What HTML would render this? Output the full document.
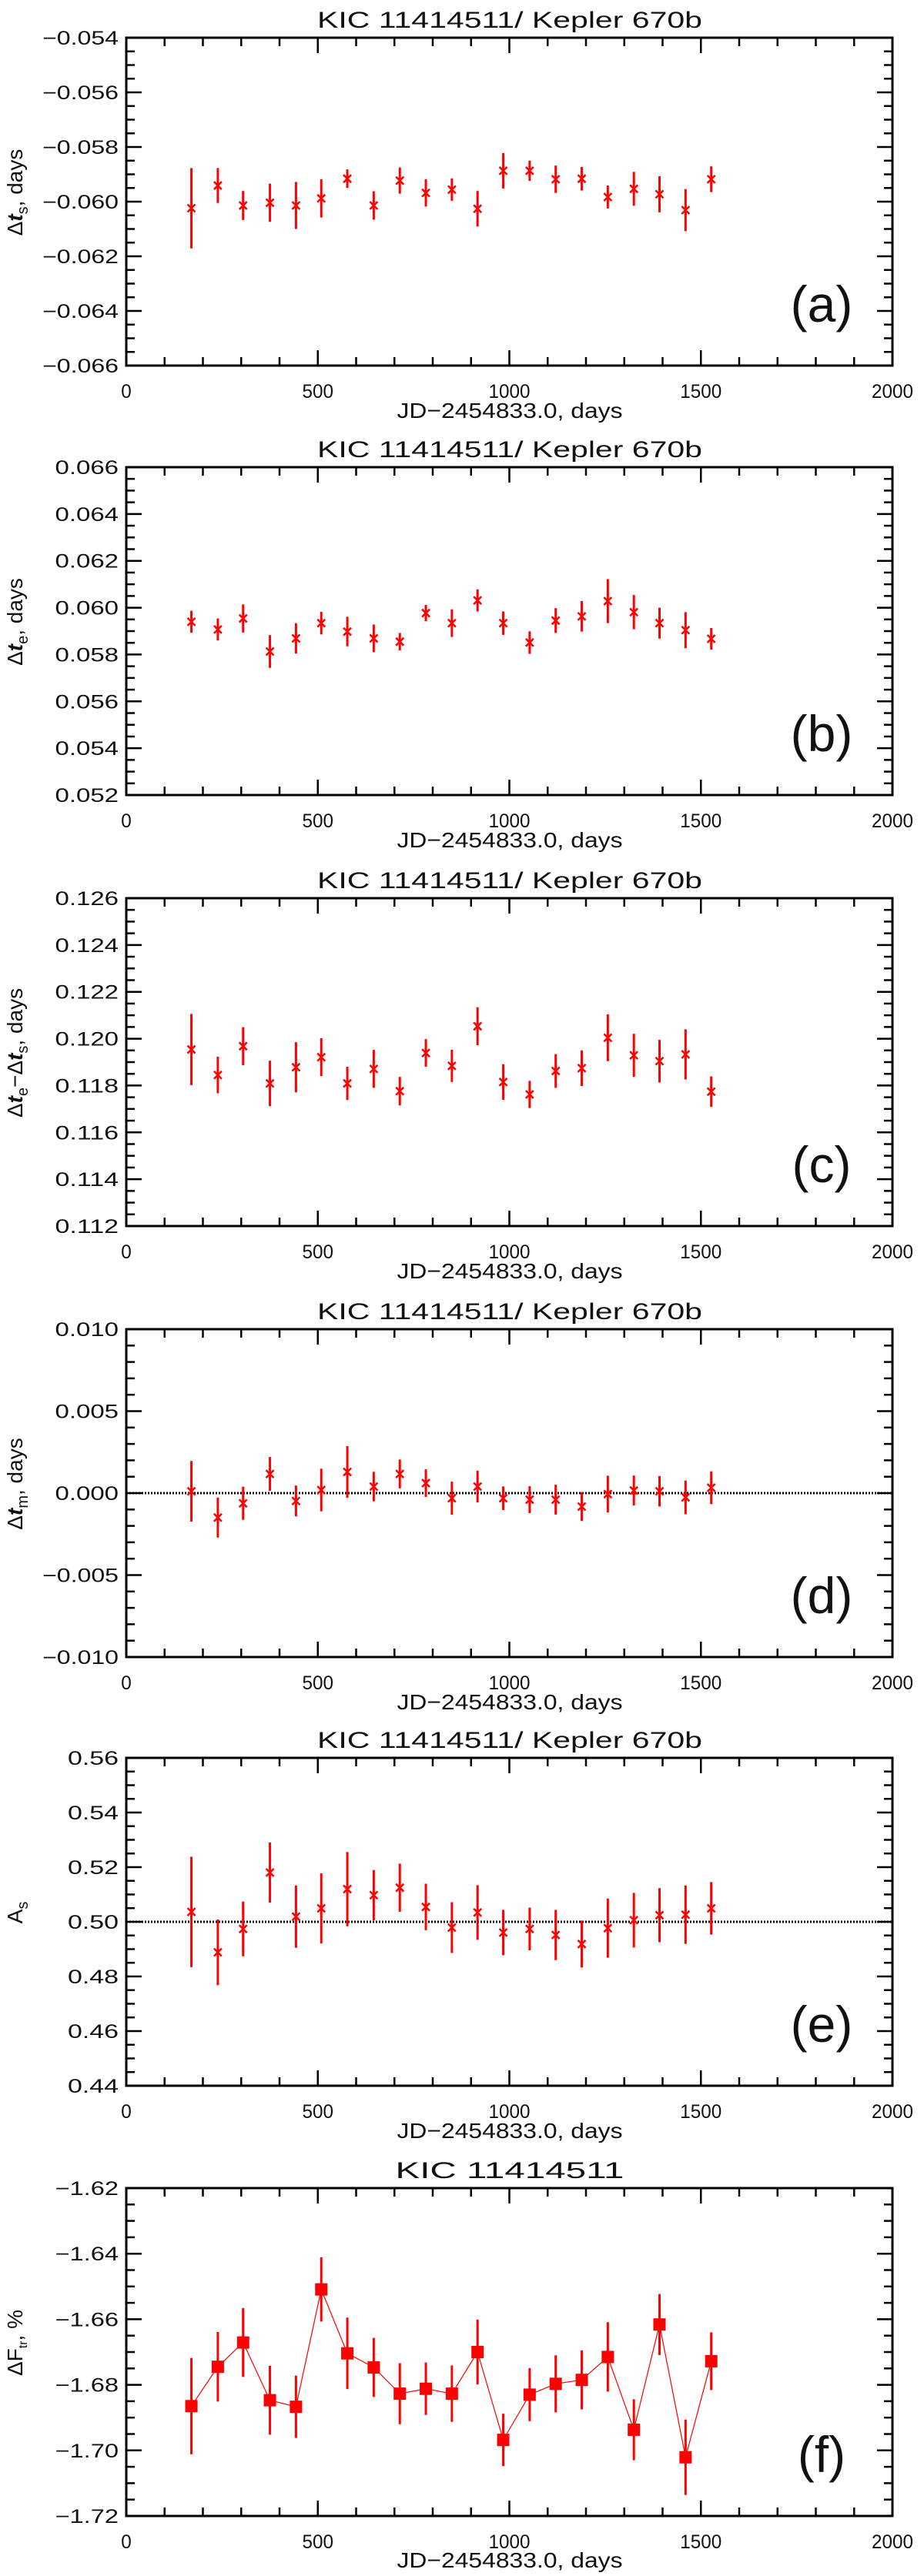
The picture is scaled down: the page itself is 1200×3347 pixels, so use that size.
<!DOCTYPE html>
<html><head><meta charset="utf-8"><style>
html,body{margin:0;padding:0;background:#fff}
svg{display:block}
text{font-family:"Liberation Sans",sans-serif;fill:#111}
</style></head><body>
<svg id="fig" width="1200" height="3347" viewBox="0 0 1200 3347" xmlns="http://www.w3.org/2000/svg"></svg>
<script>
const xDays = [170,239,305,375,443,509,577,646,714,782,850,917,984,1053,1121,1189,1257,1325,1392,1460,1527];
const xTicks = [0,500,1000,1500,2000];
const xTickLabels = ["0","500","1000","1500","2000"];

const valsA = [-0.06024,-0.05941,-0.06014,-0.06004,-0.06014,-0.05988,-0.05916,-0.06014,-0.05923,-0.05968,-0.05956,-0.06026,-0.05887,-0.05887,-0.05918,-0.05916,-0.05983,-0.05953,-0.05973,-0.06031,-0.05918];
const errsA = [0.00147,0.00064,0.00053,0.0007,0.00086,0.0007,0.00034,0.00052,0.00048,0.0005,0.00041,0.00065,0.00065,0.00037,0.0005,0.00043,0.00042,0.00062,0.00066,0.00077,0.00047];
const ticksA = [-0.054,-0.056,-0.058,-0.060,-0.062,-0.064,-0.066];
const tickLabelsA = ["\u22120.054","\u22120.056","\u22120.058","\u22120.060","\u22120.062","\u22120.064","\u22120.066"];

const valsB = [0.05940,0.05907,0.05954,0.05813,0.05869,0.05934,0.05898,0.05869,0.05855,0.05977,0.05934,0.06031,0.05934,0.05851,0.05945,0.05963,0.06028,0.05981,0.05934,0.05904,0.05867];
const errsB = [0.00047,0.00047,0.0006,0.0007,0.00065,0.00048,0.00063,0.00059,0.00037,0.00035,0.00059,0.00047,0.0005,0.00048,0.00053,0.00065,0.00094,0.00073,0.00066,0.00077,0.00046];
const ticksB = [0.066,0.064,0.062,0.060,0.058,0.056,0.054,0.052];
const tickLabelsB = ["0.066","0.064","0.062","0.060","0.058","0.056","0.054","0.052"];

const valsC = [0.11954,0.11845,0.11968,0.11809,0.11878,0.11921,0.11809,0.11871,0.11776,0.11939,0.11884,0.12053,0.11815,0.11762,0.11862,0.11874,0.12004,0.11929,0.11904,0.11933,0.11774];
const errsC = [0.00152,0.00078,0.00081,0.00097,0.00107,0.00081,0.00071,0.00081,0.00061,0.00059,0.00069,0.00081,0.00076,0.00058,0.00072,0.00076,0.001,0.00092,0.00091,0.00107,0.00065];
const ticksC = [0.126,0.124,0.122,0.120,0.118,0.116,0.114,0.112];
const tickLabelsC = ["0.126","0.124","0.122","0.120","0.118","0.116","0.114","0.112"];

const valsD = [0.00011,-0.00149,-0.00062,0.00117,-0.00048,0.00019,0.00129,0.0004,0.00117,0.00061,-0.00031,0.0004,-0.00031,-0.0004,-0.0004,-0.00082,-0.00006,0.00016,0.00011,-0.00026,0.00033];
const errsD = [0.00185,0.00122,0.00101,0.00103,0.00094,0.0013,0.00158,0.0009,0.00088,0.00084,0.00101,0.00097,0.00072,0.00082,0.00091,0.00088,0.00112,0.00091,0.00093,0.00103,0.001];
const ticksD = [0.010,0.005,0.000,-0.005,-0.010];
const tickLabelsD = ["0.010","0.005","0.000","\u22120.005","\u22120.010"];

const valsE = [0.50362,0.48883,0.49738,0.51802,0.50191,0.50493,0.51198,0.50976,0.51248,0.50544,0.49789,0.50342,0.49607,0.49738,0.49517,0.49185,0.49768,0.5006,0.50242,0.50262,0.50493];
const errsE = [0.0202,0.012,0.01,0.011,0.0114,0.0128,0.0136,0.0092,0.0088,0.0085,0.0093,0.01,0.0083,0.0078,0.0092,0.0086,0.0108,0.01,0.0099,0.0107,0.0096];
const ticksE = [0.56,0.54,0.52,0.50,0.48,0.46,0.44];
const tickLabelsE = ["0.56","0.54","0.52","0.50","0.48","0.46","0.44"];

const valsF = [-1.6865,-1.6745,-1.6671,-1.6847,-1.6867,-1.6509,-1.6704,-1.6747,-1.6827,-1.6812,-1.6827,-1.6700,-1.6968,-1.6830,-1.6797,-1.6785,-1.6715,-1.6937,-1.6616,-1.7021,-1.6728];
const errsF = [0.0147,0.0106,0.0105,0.0105,0.0095,0.0098,0.0109,0.009,0.0093,0.008,0.0086,0.0099,0.008,0.0081,0.0087,0.009,0.0106,0.0093,0.0093,0.0115,0.0088];
const ticksF = [-1.62,-1.64,-1.66,-1.68,-1.70,-1.72];
const tickLabelsF = ["\u22121.62","\u22121.64","\u22121.66","\u22121.68","\u22121.70","\u22121.72"];

const NS = "http://www.w3.org/2000/svg";
const svg = document.getElementById('fig');
function mk(tag, attrs, parent){
  const e = document.createElementNS(NS, tag);
  for (const k in attrs) e.setAttribute(k, attrs[k]);
  (parent||svg).appendChild(e);
  return e;
}
const X0 = 164, X1 = 1159;
function xs(v){ return X0 + (v-0)/(2000-0)*(X1-X0); }

function panel(p){
  const g = mk('g', {});
  
  
  const top = p.top, bot = p.top + 426;
  const ys = v => top + (p.ymax - v)/(p.ymax - p.ymin)*(bot-top);
  // title
  const t = mk('text', {x:662, y:top-13, 'text-anchor':'middle', 'font-size':30, textLength:p.titleLen, lengthAdjust:'spacingAndGlyphs'}, g);
  t.textContent = p.title;
  
  
  // frame
  const fr = mk('rect', {x:X0, y:top, width:X1-X0, height:bot-top, fill:'none', stroke:'#000', 'stroke-width':3}, g);
  
  
  // x ticks
  for (let v=0; v<=2000; v+=100){
    const major = v%500===0, L = major?20:11, x = xs(v);
    const a = mk('line', {x1:x, y1:bot, x2:x, y2:bot-L, stroke:'#000', 'stroke-width':2.5}, g);
    
    
    const b = mk('line', {x1:x, y1:top, x2:x, y2:top+L, stroke:'#000', 'stroke-width':2.5}, g);
    
    
  }
  xTicks.forEach((v,i)=>{
    const tl = mk('text', {x:xs(v), y:bot+42, 'text-anchor':'middle', 'font-size':25, textLength: xTickLabels[i].length*13.5, lengthAdjust:'spacingAndGlyphs'}, g);
    tl.textContent = xTickLabels[i];
    
    
  });
  const xl = mk('text', {x:662, y:bot+p.xlabOff, 'text-anchor':'middle', 'font-size':28, textLength:293, lengthAdjust:'spacingAndGlyphs'}, g);
  xl.textContent = 'JD\u22122454833.0, days';
  
  
  // y ticks
  const nMinor = Math.round((p.ymax-p.ymin)/p.minor);
  for (let k=0; k<=nMinor; k++){
    const v = p.ymax - k*p.minor, y = ys(v);
    const major = k % p.per === 0, L = major?20:11;
    const a = mk('line', {x1:X0, y1:y, x2:X0+L, y2:y, stroke:'#000', 'stroke-width':2.5}, g);
    
    
    const b = mk('line', {x1:X1, y1:y, x2:X1-L, y2:y, stroke:'#000', 'stroke-width':2.5}, g);
    
    
  }
  p.ticks.forEach((v,i)=>{
    const tl = mk('text', {x:154, y:ys(v)+9, 'text-anchor':'end', 'font-size':25, textLength:p.tickLabels[i].length*16.5, lengthAdjust:'spacingAndGlyphs'}, g);
    tl.textContent = p.tickLabels[i];
    
    
  });
  // y label
  const yl = mk('text', {x:0, y:0, 'text-anchor':'middle', 'font-size':28, transform:`translate(29,${top+201}) rotate(-90)`}, g);
  yl.innerHTML = p.ylabel;
  
  
  // reference line
  if (p.ref !== undefined){
    const rl = mk('line', {x1:X0, y1:ys(p.ref), x2:X1, y2:ys(p.ref), stroke:'#000', 'stroke-width':3, 'stroke-dasharray':'2 2'}, g);
    
    
  }
  // series
  if (p.squares){
    const pts = xDays.map((d,i)=>xs(d)+','+ys(p.vals[i])).join(' ');
    const pl = mk('polyline', {points:pts, fill:'none', stroke:'#f00', 'stroke-width':1.2}, g);
    
    
  }
  xDays.forEach((d,i)=>{
    const x = xs(d), y = ys(p.vals[i]);
    const eb = mk('line', {x1:x, y1:ys(p.vals[i]+p.errs[i]), x2:x, y2:ys(p.vals[i]-p.errs[i]), stroke:'#f00', 'stroke-width':3}, g);
    
    
    if (p.squares){
      const r = mk('rect', {x:x-8, y:y-8, width:16, height:16, fill:'#f00'}, g);
      
      
    } else {
      const m = mk('path', {d:`M${x-5},${y-5}L${x+5},${y+5}M${x+5},${y-5}L${x-5},${y+5}`, stroke:'#f00', 'stroke-width':2.5, fill:'none'}, g);
      
      
    }
  });
  const pl = mk('text', {x:1067, y:bot-57, 'text-anchor':'middle', 'font-size':66}, g);
  pl.textContent = '(' + p.id + ')';
  
  
}

const T1 = 'KIC 11414511/ Kepler 670b';
const tt = (sub)=>`\u0394<tspan font-style="italic" font-weight="bold">t</tspan><tspan font-size="20" dy="7">${sub}</tspan><tspan dy="-7">,  days</tspan>`;
panel({id:'a', top:49, ymin:-0.066, ymax:-0.054, minor:0.0005, per:4, ticks:ticksA, tickLabels:tickLabelsA, vals:valsA, errs:errsA, title:T1, titleLen:500, xlabOff:68, ylabel:tt('s')});
panel({id:'b', top:607, ymin:0.052, ymax:0.066, minor:0.0005, per:4, ticks:ticksB, tickLabels:tickLabelsB, vals:valsB, errs:errsB, title:T1, titleLen:500, xlabOff:68, ylabel:tt('e')});
panel({id:'c', top:1167, ymin:0.112, ymax:0.126, minor:0.0005, per:4, ticks:ticksC, tickLabels:tickLabelsC, vals:valsC, errs:errsC, title:T1, titleLen:500, xlabOff:68,
  ylabel:`\u0394<tspan font-style="italic" font-weight="bold">t</tspan><tspan font-size="20" dy="7">e</tspan><tspan dy="-7">\u2212\u0394</tspan><tspan font-style="italic" font-weight="bold">t</tspan><tspan font-size="20" dy="7">s</tspan><tspan dy="-7">,  days</tspan>`});
panel({id:'d', top:1727, ymin:-0.010, ymax:0.010, minor:0.001, per:5, ticks:ticksD, tickLabels:tickLabelsD, vals:valsD, errs:errsD, title:T1, titleLen:500, xlabOff:68, ref:0, ylabel:tt('m')});
panel({id:'e', top:2284, ymin:0.44, ymax:0.56, minor:0.005, per:4, ticks:ticksE, tickLabels:tickLabelsE, vals:valsE, errs:errsE, title:T1, titleLen:500, xlabOff:68, ref:0.5,
  ylabel:`A<tspan font-size="20" dy="7">s</tspan>`});
panel({id:'f', top:2843, ymin:-1.72, ymax:-1.62, minor:0.005, per:4, ticks:ticksF, tickLabels:tickLabelsF, vals:valsF, errs:errsF, title:'KIC     11414511', titleLen:297, xlabOff:67, squares:true,
  ylabel:`\u0394F<tspan font-size="16" dy="6">tr</tspan><tspan dy="-6">,  %</tspan>`});
</script>
</body></html>
